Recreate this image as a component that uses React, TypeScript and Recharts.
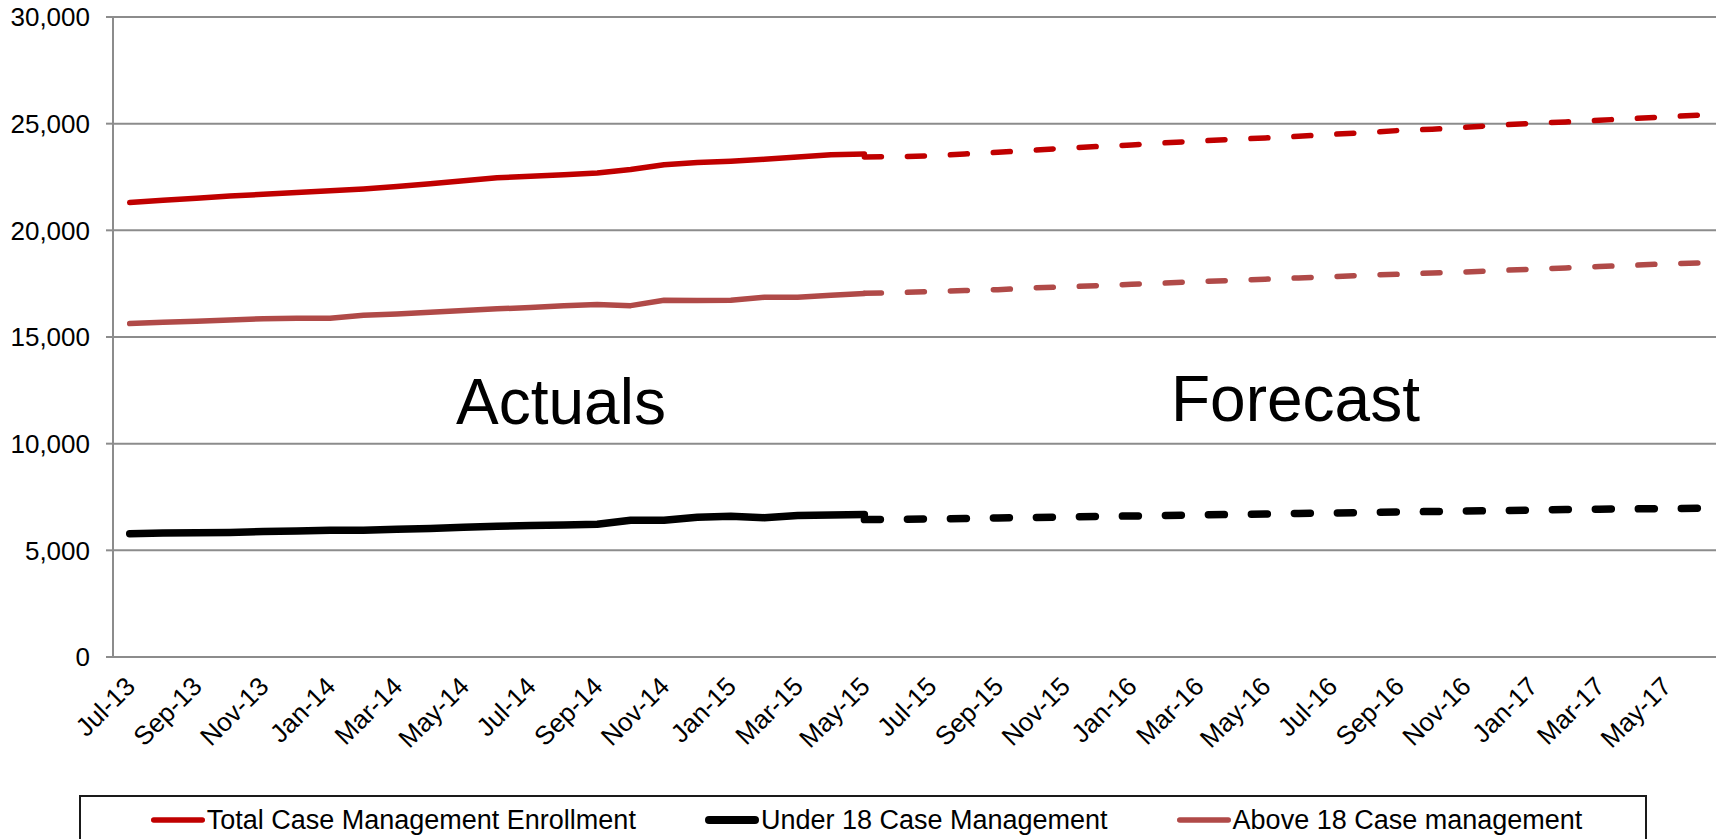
import { LineChart, Line, XAxis, YAxis, CartesianGrid, Legend, Customized } from 'recharts';

const W = 1727;
const H = 839;
const FONT = '"Liberation Sans", Arial, sans-serif';
const GRID = '#8c8c8c';

const RED = '#c00000';
const BLACK = '#000000';
const BROWN = '#b04a48';

// months on the category axis
const MONTHS = [
  'Jul-13', 'Aug-13', 'Sep-13', 'Oct-13', 'Nov-13', 'Dec-13',
  'Jan-14', 'Feb-14', 'Mar-14', 'Apr-14', 'May-14', 'Jun-14',
  'Jul-14', 'Aug-14', 'Sep-14', 'Oct-14', 'Nov-14', 'Dec-14',
  'Jan-15', 'Feb-15', 'Mar-15', 'Apr-15', 'May-15', 'Jun-15',
  'Jul-15', 'Aug-15', 'Sep-15', 'Oct-15', 'Nov-15', 'Dec-15',
  'Jan-16', 'Feb-16', 'Mar-16', 'Apr-16', 'May-16', 'Jun-16',
  'Jul-16', 'Aug-16', 'Sep-16', 'Oct-16', 'Nov-16', 'Dec-16',
  'Jan-17', 'Feb-17', 'Mar-17', 'Apr-17', 'May-17', 'Jun-17',
];

// forecast series start at this month (May-15)
const FORECAST_START = 22;

const TOTAL_ACTUAL = [
  21300, 21410, 21500, 21610, 21690, 21770, 21850, 21940, 22050, 22180, 22320, 22460,
  22540, 22600, 22690, 22850, 23070, 23180, 23240, 23330, 23440, 23540, 23580,
];
const TOTAL_FORECAST = [
  23440, 23450, 23490, 23580, 23660, 23750, 23850, 23930, 24000, 24100, 24190, 24260, 24330,
  24410, 24500, 24580, 24680, 24740, 24830, 24930, 25020, 25080, 25160, 25240, 25320, 25400,
];

const UNDER18_ACTUAL = [
  5780, 5810, 5830, 5840, 5880, 5910, 5940, 5940, 5990, 6020, 6080, 6130,
  6160, 6190, 6220, 6410, 6410, 6550, 6600, 6530, 6630, 6660, 6680,
];
const UNDER18_FORECAST = [
  6440, 6450, 6470, 6490, 6520, 6540, 6560, 6590, 6610, 6630, 6660, 6680, 6700,
  6730, 6750, 6770, 6800, 6820, 6840, 6860, 6890, 6910, 6930, 6940, 6960, 6970,
];

const ABOVE18_ACTUAL = [
  15630, 15690, 15740, 15800, 15860, 15880, 15880, 16020, 16080, 16160, 16240, 16320,
  16380, 16460, 16520, 16470, 16720, 16710, 16720, 16860, 16860, 16960, 17040,
];
const ABOVE18_FORECAST = [
  17050, 17080, 17130, 17180, 17220, 17300, 17350, 17410, 17470, 17530, 17600, 17650, 17710,
  17770, 17830, 17900, 17940, 18000, 18050, 18120, 18180, 18240, 18300, 18360, 18430, 18470,
];

const Y_TICKS = [0, 5000, 10000, 15000, 20000, 25000, 30000];

const LEGEND_ITEMS = [
  { name: 'Total Case Management Enrollment', color: RED, width: 5.5 },
  { name: 'Under 18 Case Management', color: BLACK, width: 8 },
  { name: 'Above 18 Case management', color: BROWN, width: 5.5 },
];

const actualOrNull = (arr: number[], i: number) => (i <= FORECAST_START ? arr[i] : null);
const forecastOrNull = (arr: number[], i: number) => (i >= FORECAST_START ? arr[i - FORECAST_START] : null);

// x is in month units; a category occupies [i, i+1]
const data = MONTHS.map((month, i) => ({
  x: i + 0.5,
  month,
  total: actualOrNull(TOTAL_ACTUAL, i),
  totalF: forecastOrNull(TOTAL_FORECAST, i),
  under: actualOrNull(UNDER18_ACTUAL, i),
  underF: forecastOrNull(UNDER18_FORECAST, i),
  above: actualOrNull(ABOVE18_ACTUAL, i),
  aboveF: forecastOrNull(ABOVE18_FORECAST, i),
}));

// tick marks between categories, every two months
const BOUNDARY_TICKS = Array.from({ length: MONTHS.length / 2 + 1 }, (_, k) => k * 2);
const LABEL_TICKS = BOUNDARY_TICKS.slice(0, -1).map(v => v + 0.5);

function MonthTick(props: any) {
  const { x, y, payload } = props;
  const label = MONTHS[Math.floor(payload.value)];
  const ax = x + 7;
  const ay = y + 31;
  return (
    <text x={ax} y={ay} transform={`rotate(-45, ${ax}, ${ay})`} textAnchor="end"
          fontSize={26} fontFamily={FONT} fill="#000">
      {label}
    </text>
  );
}

function LegendBox() {
  return (
    <div style={{
      boxSizing: 'border-box', height: 44, width: '100%',
      borderTop: '2px solid #1a1a1a', borderLeft: '2px solid #1a1a1a', borderRight: '2px solid #1a1a1a',
      display: 'flex', alignItems: 'center', justifyContent: 'center', gap: 68,
      fontFamily: FONT, fontSize: 27, color: '#000', paddingLeft: 6, paddingTop: 4,
    }}>
      {LEGEND_ITEMS.map(it => (
        <div key={it.name} style={{ display: 'flex', alignItems: 'center' }}>
          <svg width={56} height={12} style={{ marginRight: 1 }}>
            <line x1={it.width / 2 + 1} y1={6} x2={55 - it.width / 2} y2={6}
                  stroke={it.color} strokeWidth={it.width} strokeLinecap="round" />
          </svg>
          <span style={{ whiteSpace: 'nowrap' }}>{it.name}</span>
        </div>
      ))}
    </div>
  );
}

function Annotations() {
  return (
    <g fontFamily={FONT} fontSize={64} fill="#000">
      <text x={456} y={424}>Actuals</text>
      <text x={1171} y={421}>Forecast</text>
    </g>
  );
}

export default function App() {
  return (
    <div style={{ position: 'absolute', left: 0, top: 0, width: W, height: H, background: '#fff', overflow: 'hidden' }}>
      <LineChart width={W} height={H} data={data} margin={{ top: 17, right: 11, bottom: 0, left: 0 }}>
        <CartesianGrid xAxisId="m" vertical={false} stroke={GRID} strokeWidth={2} />
        <XAxis xAxisId="m" type="number" dataKey="x" domain={[0, 48]} ticks={BOUNDARY_TICKS} interval={0}
               tickFormatter={() => ''} tickSize={8} height={0}
               axisLine={{ stroke: GRID, strokeWidth: 2 }} tickLine={{ stroke: GRID, strokeWidth: 2 }} />
        <XAxis xAxisId="l" type="number" dataKey="x" domain={[0, 48]} ticks={LABEL_TICKS} interval={0}
               axisLine={false} tickLine={false} tickSize={0} tickMargin={0} height={138}
               tick={<MonthTick />} />
        <YAxis type="number" domain={[0, 30000]} ticks={Y_TICKS} interval={0} width={113}
               tickSize={7} tickMargin={16}
               axisLine={{ stroke: GRID, strokeWidth: 2 }} tickLine={{ stroke: GRID, strokeWidth: 2 }}
               tick={{ fontSize: 26, fill: '#000', fontFamily: FONT }}
               tickFormatter={(v: number) => v.toLocaleString('en-US')} />
        <Legend verticalAlign="bottom" content={<LegendBox />}
                wrapperStyle={{ left: 79, width: 1568, bottom: 0 }} />

        <Line xAxisId="m" dataKey="total" stroke={RED} strokeWidth={5.5} dot={false}
              strokeLinecap="round" strokeLinejoin="round" isAnimationActive={false} />
        <Line xAxisId="m" dataKey="totalF" stroke={RED} strokeWidth={5.5} dot={false}
              strokeDasharray="17 26" strokeLinecap="round" isAnimationActive={false} legendType="none" />
        <Line xAxisId="m" dataKey="under" stroke={BLACK} strokeWidth={7.5} dot={false}
              strokeLinecap="round" strokeLinejoin="round" isAnimationActive={false} />
        <Line xAxisId="m" dataKey="underF" stroke={BLACK} strokeWidth={7.5} dot={false}
              strokeDasharray="16 27" strokeLinecap="round" isAnimationActive={false} legendType="none" />
        <Line xAxisId="m" dataKey="above" stroke={BROWN} strokeWidth={5.5} dot={false}
              strokeLinecap="round" strokeLinejoin="round" isAnimationActive={false} />
        <Line xAxisId="m" dataKey="aboveF" stroke={BROWN} strokeWidth={5.5} dot={false}
              strokeDasharray="17 26" strokeLinecap="round" isAnimationActive={false} legendType="none" />

        <Customized component={Annotations} />
      </LineChart>
    </div>
  );
}
